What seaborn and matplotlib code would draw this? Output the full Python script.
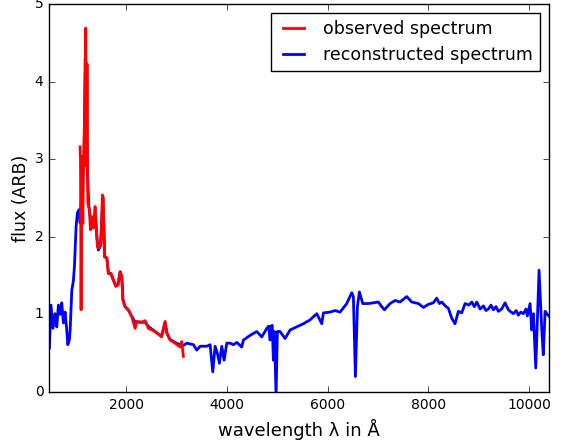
import numpy as np
import pandas as pd
import matplotlib
matplotlib.use("Agg")
import matplotlib.pyplot as plt
import seaborn as sns

# reconstructed spectrum (blue)
recon_wavelength = [478, 510, 550, 590, 625, 657, 690, 724, 756, 790, 823, 843, 875, 890,
                    923, 955, 975, 1008, 1034, 1068, 1088, 1110, 1140, 1165, 1190, 1215,
                    1235, 1260, 1290, 1320, 1350, 1390, 1420, 1450, 1490, 1530, 1550, 1575,
                    1620, 1650, 1700, 1750, 1800, 1840, 1885, 1915, 1940, 1980, 2050, 2110,
                    2180, 2250, 2310, 2380, 2450, 2575, 2700, 2775, 2810, 2870, 2970, 3070,
                    3140, 3204, 3336, 3402, 3469, 3601, 3667, 3720, 3766, 3812, 3852, 3899,
                    3945, 3998, 4063, 4130, 4196, 4295, 4328, 4395, 4460, 4593, 4692, 4791,
                    4830, 4857, 4880, 4900, 4923, 4943, 4976, 5002, 5055, 5155, 5254, 5386,
                    5518, 5651, 5783, 5883, 5915, 6048, 6147, 6246, 6378, 6478, 6510, 6550,
                    6590, 6629, 6696, 6808, 6907, 7006, 7072, 7125, 7238, 7337, 7436, 7569,
                    7668, 7801, 7900, 7999, 8097, 8164, 8217, 8263, 8349, 8395, 8462, 8527,
                    8593, 8660, 8726, 8800, 8859, 8910, 8958, 9024, 9090, 9140, 9189, 9240,
                    9288, 9340, 9387, 9453, 9519, 9585, 9640, 9685, 9740, 9784, 9830, 9883,
                    9936, 9962, 10016, 10049, 10082, 10129, 10168, 10194, 10228, 10248,
                    10278, 10314, 10347, 10387]
recon_flux = [0.57, 1.12, 0.82, 1.01, 0.84, 1.12, 1.00, 1.15, 0.89, 1.03, 0.80, 0.61, 0.67, 0.80,
              1.31, 1.44, 1.62, 2.13, 2.31, 2.35, 2.18, 2.50, 2.85, 2.95, 4.30, 3.40,
              2.80, 2.40, 2.25, 2.25, 2.15, 2.30, 2.00, 1.83, 1.88, 2.40, 2.35, 1.75,
              1.72, 1.53, 1.52, 1.44, 1.37, 1.38, 1.55, 1.48, 1.19, 1.10, 1.05, 0.98,
              0.90, 0.90, 0.90, 0.90, 0.84, 0.78, 0.72, 0.90, 0.76, 0.68, 0.64, 0.61,
              0.60, 0.63, 0.61, 0.54, 0.59, 0.59, 0.61, 0.26, 0.59, 0.50, 0.37, 0.59,
              0.41, 0.63, 0.63, 0.61, 0.64, 0.58, 0.67, 0.70, 0.73, 0.78, 0.71, 0.82,
              0.85, 0.67, 0.85, 0.86, 0.41, 0.78, -0.05, 0.78, 0.78, 0.69, 0.80, 0.84,
              0.88, 0.93, 1.01, 0.88, 1.02, 1.03, 1.05, 1.03, 1.14, 1.28, 1.23, 0.20,
              1.10, 1.29, 1.14, 1.14, 1.15, 1.16, 1.10, 1.06, 1.14, 1.18, 1.16, 1.23,
              1.16, 1.14, 1.09, 1.13, 1.15, 1.21, 1.14, 1.16, 1.10, 1.08, 0.95, 0.88,
              1.04, 1.02, 1.14, 1.12, 1.16, 1.10, 1.16, 1.07, 1.11, 1.05, 1.07, 1.12,
              1.06, 1.10, 1.04, 1.07, 1.15, 1.06, 1.03, 1.01, 1.05, 0.99, 1.03, 1.01,
              1.07, 0.98, 1.14, 0.80, 1.01, 0.31, 1.07, 1.57, 1.07, 0.80,
              0.48, 1.04, 1.01, 0.98]

# observed spectrum (red)
obs_wavelength = [1087, 1095, 1107, 1121, 1141, 1161, 1180, 1200, 1215, 1225, 1240, 1272,
                  1292, 1320, 1351, 1385, 1405, 1431, 1465, 1504, 1530, 1550, 1570, 1617,
                  1649, 1702, 1748, 1795, 1835, 1881, 1914, 1934, 1980, 2046, 2112, 2179,
                  2212, 2311, 2377, 2442, 2575, 2708, 2774, 2807, 2873, 2972, 3071, 3104,
                  3137]
obs_flux = [3.16, 2.97, 1.06, 3.03, 2.17, 3.12, 3.66, 4.69, 2.90, 4.23, 2.43, 2.35,
            2.09, 2.26, 2.11, 2.39, 2.17, 1.87, 1.86, 1.92, 2.54, 2.50, 1.74, 1.73,
            1.53, 1.53, 1.44, 1.36, 1.38, 1.55, 1.49, 1.19, 1.10, 1.06, 0.97, 0.82,
            0.91, 0.90, 0.92, 0.82, 0.78, 0.71, 0.91, 0.76, 0.67, 0.63, 0.58, 0.65,
            0.46]

x_ticks = [2000, 4000, 6000, 8000, 10000]
y_ticks = [0, 1, 2, 3, 4, 5]

plt.style.use("classic")
plt.rcParams["font.family"] = ["DejaVu Sans"]

obs_df = pd.DataFrame({"wavelength": obs_wavelength, "flux": obs_flux})
rec_df = pd.DataFrame({"wavelength": recon_wavelength, "flux": recon_flux})

fig = plt.figure(figsize=(5.63, 4.42), dpi=100, facecolor="white")
ax = fig.add_axes([0.087, 0.113, 0.888, 0.878])
ax.set_facecolor("white")

sns.lineplot(data=obs_df, x="wavelength", y="flux", color="red", lw=2,
             label="observed spectrum", estimator=None, sort=False, ax=ax, zorder=3)
sns.lineplot(data=rec_df, x="wavelength", y="flux", color="blue", lw=2,
             label="reconstructed spectrum", estimator=None, sort=False, ax=ax, zorder=2)

ax.set_xlim(470, 10390)
ax.set_ylim(0, 5)
ax.set_xticks(x_ticks)
ax.set_yticks(y_ticks)
ax.tick_params(labelsize=10, direction="in", top=True, right=True)
ax.set_xlabel("wavelength \u03bb in \u00c5", fontsize=13)
ax.set_ylabel("flux (ARB)", fontsize=12.5)
ax.yaxis.set_label_coords(-0.038, 0.5)
ax.legend(loc="upper right", fontsize=12.5, frameon=True, fancybox=False,
          borderaxespad=0.5, handlelength=1.8)

fig.savefig("out.png", dpi=100, facecolor="white")
